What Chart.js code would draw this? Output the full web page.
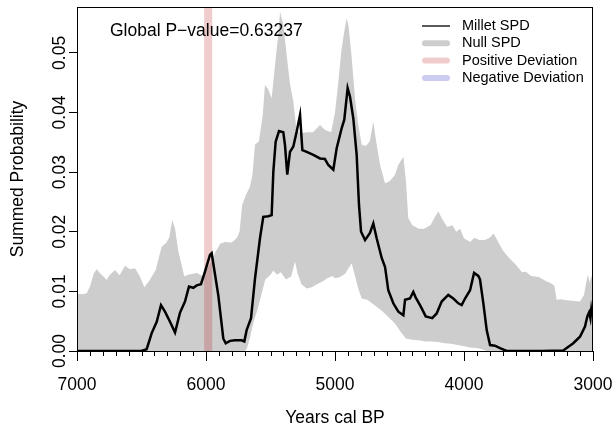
<!DOCTYPE html>
<html>
<head>
<meta charset="utf-8">
<script src="https://cdn.jsdelivr.net/npm/chart.js@4.4.1/dist/chart.umd.min.js"></script>
<style>
  html, body { margin: 0; padding: 0; background: #fff; }
  #wrap { width: 614px; height: 430px; }
</style>
</head>
<body>
<div id="wrap"><canvas id="spd" width="614" height="430"></canvas></div>
<script>
// ── data ─────────────────────────────────────────────
const spdYears = [7000, 6500, 6460, 6421, 6382, 6349, 6318, 6279, 6240, 6202, 6163, 6132, 6098, 6072, 6039, 6008, 5969, 5956,
  5905, 5866, 5847, 5814, 5775, 5723, 5703, 5685, 5651, 5620, 5581, 5556, 5517, 5491, 5478, 5460, 5434, 5401, 5388, 5370,
  5349, 5323, 5297, 5271, 5253, 5219, 5168, 5116, 5078, 5052, 5013, 4987, 4948, 4928, 4902, 4884, 4858, 4832, 4814, 4798,
  4767, 4729, 4703, 4677, 4638, 4612, 4587, 4548, 4509, 4470, 4457, 4419, 4393, 4375, 4341, 4315, 4297, 4246, 4212, 4173,
  4122, 4083, 4044, 4018, 3992, 3953, 3922, 3889, 3876, 3850, 3824, 3798, 3760, 3721, 3669, 3400, 3230, 3204, 3153, 3101,
  3062, 3044, 3030, 3020, 3014, 3008, 3000];
const spdVals = [0, 0, 0.0003, 0.0030, 0.0049, 0.0077, 0.0066, 0.0049, 0.0031, 0.0064, 0.0083, 0.0108, 0.0106, 0.0110, 0.0112, 0.0133, 0.0161, 0.0164,
  0.0094, 0.0021, 0.0013, 0.0017, 0.0018, 0.0018, 0.0016, 0.0035, 0.0055, 0.0122, 0.0190, 0.0225, 0.0226, 0.0228, 0.0301, 0.0351, 0.0369, 0.0367, 0.0346, 0.0296,
  0.0334, 0.0343, 0.0368, 0.0396, 0.0337, 0.0334, 0.0329, 0.0323, 0.0322, 0.0312, 0.0304, 0.0340, 0.0374, 0.0388, 0.0441, 0.0427, 0.0390, 0.0329, 0.0245, 0.0200,
  0.0186, 0.0198, 0.0214, 0.0189, 0.0156, 0.0141, 0.0102, 0.0080, 0.0066, 0.0060, 0.0086, 0.0088, 0.0099, 0.0090, 0.0077, 0.0066, 0.0058, 0.0055, 0.0063, 0.0083,
  0.0094, 0.0088, 0.0080, 0.0077, 0.0088, 0.0102, 0.0131, 0.0126, 0.0120, 0.0080, 0.0035, 0.0010, 0.0009, 0.0005, 0, 0, 0.0001, 0.0005, 0.0013, 0.0024,
  0.0041, 0.0058, 0.0065, 0.0055, 0.0068, 0.0058, 0.0074];

const upYears = [7000, 6960, 6925, 6899, 6870, 6847, 6820, 6795, 6770, 6745, 6705, 6670, 6628, 6590, 6550, 6512, 6478, 6440,
  6390, 6344, 6310, 6285, 6261, 6240, 6215, 6168, 6140, 6070, 6021, 6000, 5960, 5930, 5890, 5853, 5800, 5760, 5740, 5720,
  5690, 5660, 5640, 5620, 5590, 5560, 5543, 5520, 5491, 5460, 5440, 5426, 5400, 5375, 5350, 5323, 5300, 5270, 5220, 5170,
  5116, 5080, 5030, 5000, 4975, 4950, 4925, 4910, 4895, 4870, 4845, 4820, 4793, 4760, 4730, 4703, 4680, 4650, 4612, 4575,
  4535, 4510, 4470, 4450, 4432, 4400, 4350, 4310, 4260, 4230, 4199, 4170, 4130, 4090, 4060, 4030, 4000, 3953, 3920, 3880,
  3840, 3800, 3770, 3740, 3700, 3650, 3600, 3550, 3520, 3480, 3420, 3370, 3330, 3300, 3282, 3250, 3200, 3150, 3100, 3070,
  3055, 3041, 3025, 3012, 3000];
const upVals = [0.0096, 0.0095, 0.0097, 0.0108, 0.0130, 0.0137, 0.0130, 0.0125, 0.0119, 0.0128, 0.0136, 0.0127, 0.0143, 0.0137, 0.0139, 0.0125, 0.0107, 0.0118,
  0.0136, 0.0175, 0.0181, 0.0190, 0.0220, 0.0205, 0.0168, 0.0125, 0.0128, 0.0131, 0.0125, 0.0135, 0.0150, 0.0165, 0.0180, 0.0183, 0.0182, 0.0190, 0.0200, 0.0245,
  0.0262, 0.0275, 0.0295, 0.0346, 0.0352, 0.0396, 0.0446, 0.0440, 0.0424, 0.0490, 0.0530, 0.0569, 0.0547, 0.0497, 0.0450, 0.0418, 0.0374, 0.0365, 0.0367, 0.0367,
  0.0379, 0.0371, 0.0367, 0.0400, 0.0450, 0.0505, 0.0540, 0.0558, 0.0545, 0.0491, 0.0424, 0.0380, 0.0346, 0.0344, 0.0352, 0.0385, 0.0350, 0.0312, 0.0281, 0.0285,
  0.0295, 0.0312, 0.0326, 0.0285, 0.0223, 0.0211, 0.0205, 0.0205, 0.0211, 0.0223, 0.0234, 0.0222, 0.0208, 0.0211, 0.0200, 0.0205, 0.0189, 0.0183, 0.0190, 0.0186,
  0.0186, 0.0190, 0.0197, 0.0185, 0.0169, 0.0156, 0.0145, 0.0132, 0.0133, 0.0126, 0.0124, 0.0118, 0.0114, 0.0110, 0.0086, 0.0087, 0.0085, 0.0084, 0.0083, 0.0094,
  0.0112, 0.0128, 0.0115, 0.0127, 0.0110];

const loYears = [7000, 5700, 5685, 5660, 5630, 5600, 5570, 5540, 5500, 5478, 5450, 5420, 5380, 5340, 5310, 5290, 5260, 5220,
  5180, 5140, 5100, 5060, 5020, 5000, 4960, 4920, 4871, 4850, 4820, 4793, 4750, 4700, 4640, 4590, 4535, 4490, 4450, 4400,
  4350, 4300, 4250, 4200, 4150, 4100, 4050, 4000, 3953, 3900, 3860, 3824, 3000];
const loVals = [0, 0, 0.0003, 0.0022, 0.0050, 0.0070, 0.0095, 0.0120, 0.0128, 0.0135, 0.0128, 0.0132, 0.0120, 0.0125, 0.0150, 0.0130, 0.0112, 0.0105,
  0.0107, 0.0112, 0.0116, 0.0122, 0.0126, 0.0122, 0.0124, 0.0130, 0.0147, 0.0130, 0.0105, 0.0088, 0.0086, 0.0078, 0.0068, 0.0058, 0.0046, 0.0032, 0.0021, 0.0019,
  0.0018, 0.0016, 0.0016, 0.0015, 0.0013, 0.0012, 0.0010, 0.0008, 0.0006, 0.0005, 0.0003, 0, 0];

// positive deviation band (years cal BP)
const bandYears = [6015, 5950];

const xTicks = [7000, 6000, 5000, 4000, 3000];
const xMinorStep = 100;
const yTicks = [0, 0.01, 0.02, 0.03, 0.04, 0.05];
const yTickLabels = ['0.00', '0.01', '0.02', '0.03', '0.04', '0.05'];
const yMax = 0.0577;

const legendLabels = ['Millet SPD', 'Null SPD', 'Positive Deviation', 'Negative Deviation'];
const pValueText = 'Global P\u2212value=0.63237';

// ── styles ───────────────────────────────────────────
const FONT = "'Liberation Sans', Arial, Helvetica, sans-serif";
const GREY = 'rgb(205,205,205)';
const POS = 'rgba(178,0,0,0.2)';
const NEG = 'rgba(0,0,178,0.2)';
const legendStyles = [
  { color: '#000', width: 1.3 },
  { color: GREY, width: 6 },
  { color: POS, width: 6 },
  { color: NEG, width: 6 }
];

const pts = (xs, ys) => xs.map((x, i) => ({ x, y: ys[i] }));

const extras = {
  id: 'extras',
  afterDraw(chart) {
    const { ctx, chartArea: a, scales: { x } } = chart;
    ctx.save();
    // box
    ctx.strokeStyle = '#000';
    ctx.lineWidth = 1;
    ctx.strokeRect(a.left + 0.5, a.top + 0.5, a.right - a.left - 1, a.bottom - a.top);
    // minor ticks
    ctx.beginPath();
    for (let v = 3000 + xMinorStep; v < 7000; v += xMinorStep) {
      if (v % 1000 === 0) continue;
      const px = Math.round(x.getPixelForValue(v)) + 0.5;
      ctx.moveTo(px, a.bottom);
      ctx.lineTo(px, a.bottom + 5);
    }
    ctx.stroke();
    // p-value
    ctx.fillStyle = '#000';
    ctx.font = '17.5px ' + FONT;
    ctx.textBaseline = 'middle';
    ctx.textAlign = 'left';
    ctx.fillText(pValueText, 110, 31);
    // legend
    ctx.font = '14.5px ' + FONT;
    legendLabels.forEach((lab, i) => {
      const y = 26 + i * 17.3;
      const st = legendStyles[i];
      ctx.beginPath();
      ctx.strokeStyle = st.color;
      ctx.lineWidth = st.width;
      ctx.lineCap = st.width > 2 ? 'round' : 'butt';
      if (st.width > 2) { ctx.moveTo(425, y); ctx.lineTo(447, y); }
      else { ctx.moveTo(422, y); ctx.lineTo(450, y); }
      ctx.stroke();
      ctx.fillStyle = '#000';
      ctx.fillText(lab, 462, y);
    });
    ctx.restore();
  }
};

new Chart(document.getElementById('spd'), {
  type: 'line',
  data: {
    datasets: [
      { label: 'Millet SPD', data: pts(spdYears, spdVals), borderColor: '#000', borderWidth: 2.5, pointRadius: 0, fill: false, tension: 0 },
      { label: 'Positive Deviation', data: pts(bandYears, bandYears.map(() => yMax)), borderWidth: 0, borderColor: 'rgba(0,0,0,0)', backgroundColor: POS, pointRadius: 0, fill: 'origin' },
      { label: 'lower', data: pts(loYears, loVals), borderWidth: 0, borderColor: 'rgba(0,0,0,0)', pointRadius: 0, fill: false },
      { label: 'Null SPD', data: pts(upYears, upVals), borderWidth: 0, borderColor: 'rgba(0,0,0,0)', backgroundColor: GREY, pointRadius: 0, fill: '-1' }
    ]
  },
  options: {
    responsive: false,
    animation: false,
    devicePixelRatio: 1,
    layout: { padding: { top: 7, right: 21, left: 0, bottom: 0 } },
    plugins: { legend: { display: false }, tooltip: { enabled: false } },
    scales: {
      x: {
        type: 'linear', min: 3000, max: 7000, reverse: true,
        afterBuildTicks: s => { s.ticks = xTicks.map(v => ({ value: v })); },
        afterFit: s => { s.height = 79; s.paddingLeft = 0; s.paddingRight = 0; },
        ticks: { color: '#000', font: { family: FONT, size: 17.5 }, padding: 13.5, maxRotation: 0, callback: v => String(v) },
        grid: { drawOnChartArea: false, drawTicks: true, tickLength: 10, tickColor: '#000', color: '#000' },
        border: { display: true, color: '#000', width: 1 },
        title: { display: true, text: 'Years cal BP', color: '#000', font: { family: FONT, size: 17.5 }, padding: { top: 0, bottom: 1.5 } }
      },
      y: {
        type: 'linear', min: 0, max: yMax,
        afterBuildTicks: s => { s.ticks = yTicks.map(v => ({ value: v })); },
        afterFit: s => { s.width = 77; s.paddingTop = 0; s.paddingBottom = 0; },
        ticks: { color: '#000', font: { family: FONT, size: 17.5 }, minRotation: 90, maxRotation: 90, crossAlign: 'center', padding: -8, callback: (v, i) => yTickLabels[i] },
        grid: { drawOnChartArea: false, drawTicks: true, tickLength: 8, tickColor: '#000', color: '#000' },
        border: { display: true, color: '#000', width: 1 },
        title: { display: true, text: 'Summed Probability', color: '#000', font: { family: FONT, size: 17.5 }, padding: { top: 8, bottom: 0 } }
      }
    }
  },
  plugins: [extras]
});
</script>
</body>
</html>
